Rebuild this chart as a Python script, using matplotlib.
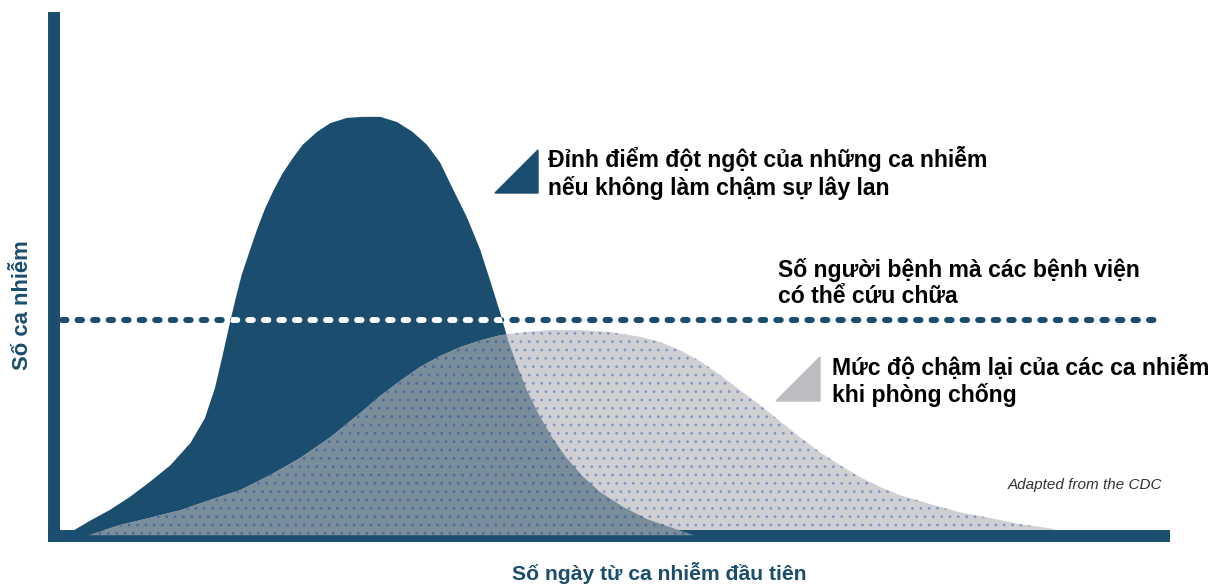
import matplotlib.pyplot as plt
from matplotlib.patches import Polygon

plt.rcParams['font.family'] = ['Liberation Sans', 'DejaVu Sans']
plt.rcParams['hatch.linewidth'] = 0.8

# curve without slowing the spread (days, cases)
fast_x = [1.0, 3.2, 5.0, 6.8, 8.6, 10.5, 12.3, 13.6, 14.5, 15.2, 15.9, 16.4, 16.9, 17.6,
          18.3, 19.0, 19.8, 20.6, 21.5, 22.4, 23.7, 24.9, 26.4, 27.8, 29.4, 30.9, 32.3,
          33.6, 34.8, 35.9, 37.2, 38.4, 39.3, 40.2, 40.9, 41.7, 42.6, 43.6, 44.8, 46.1,
          47.6, 49.2, 51.3, 53.4, 55.8, 57.7]
fast_y = [0, 2.8, 4.9, 7.4, 10.3, 13.6, 17.9, 22.7, 28.5, 34.9, 41.6, 46.1, 50.3, 54.8,
          59.2, 63.1, 66.8, 70.0, 72.9, 75.5, 78.0, 79.7, 80.7, 80.9, 80.9, 79.9, 78.0,
          75.5, 72.0, 67.1, 61.5, 55.2, 49.2, 43.0, 37.8, 32.9, 28.1, 23.7, 19.2, 15.2,
          11.5, 8.4, 5.5, 3.2, 1.4, 0]

# curve with protective measures
slow_x = [3.0, 5.9, 8.6, 11.4, 14.1, 16.8, 19.5, 22.2, 24.9, 27.6, 29.4, 31.2, 33.0, 34.8,
          36.6, 38.4, 40.2, 42.4, 44.7, 47.4, 50.1, 52.8, 54.6, 56.4, 58.2, 60.0, 61.8,
          63.6, 65.4, 67.2, 69.0, 70.8, 72.6, 74.4, 76.2, 78.9, 81.6, 84.3, 87.0, 89.7,
          92.0]
slow_y = [0, 2.0, 3.4, 4.9, 6.9, 8.8, 11.7, 15.0, 19.0, 23.7, 27.0, 29.9, 32.6, 34.7,
          36.4, 37.7, 38.7, 39.3, 39.7, 39.7, 39.3, 38.4, 37.4, 35.8, 33.7, 31.0, 28.1,
          25.2, 22.1, 19.0, 16.1, 13.6, 11.3, 9.4, 7.8, 6.1, 4.5, 3.4, 2.2, 1.4, 0]

capacity = 41.6

dark = '#1b4d6e'
grey = '#d0d0d3'
overlap = '#7a8d9b'

fig = plt.figure(figsize=(12.26, 5.85), dpi=100)
ax = fig.add_axes([0.04405, 0.0846, 0.9054, 0.8846])
ax.set_xlim(0, 100)
ax.set_ylim(0, 100)

fast = ax.fill(fast_x, fast_y, color=dark, lw=0, zorder=1)[0]
ax.fill(slow_x, slow_y, facecolor=grey, edgecolor='#8197c6', hatch='..', lw=0, zorder=2)
over = ax.fill(slow_x, slow_y, facecolor=overlap, edgecolor='#4d6c9e', hatch='..', lw=0,
               zorder=3)[0]
over.set_clip_path(fast)

ax.plot([0.7, 99.7], [capacity, capacity], color=dark, lw=4.3, dashes=(0.75, 1.85),
        dash_capstyle='round', zorder=4)
wl = ax.plot([0.7, 99.7], [capacity, capacity], color='white', lw=4.3, dashes=(0.75, 1.85),
             dash_capstyle='round', zorder=5)[0]
wl.set_clip_path(fast)

for s in ['top', 'right']:
    ax.spines[s].set_visible(False)
for s in ['left', 'bottom']:
    ax.spines[s].set_linewidth(8.6)
    ax.spines[s].set_color(dark)
ax.set_xticks([])
ax.set_yticks([])

W, H = 1226, 585


def px(x, y):
    return x / W, 1 - y / H


# legend triangles
fig.patches.append(Polygon([px(495, 193), px(538, 150), px(538, 193)], closed=True,
                           transform=fig.transFigure, color=dark))
fig.patches.append(Polygon([px(776, 401), px(820, 357), px(820, 401)], closed=True,
                           transform=fig.transFigure, color='#bdbdc1'))

fs = 16.6
fig.text(*px(548, 173), 'Đỉnh điểm đột ngột của những ca nhiễm\nnếu không làm chậm sự lây lan',
         fontsize=fs, fontweight='bold', va='center', ha='left', linespacing=1.2)
fig.text(*px(778, 283), 'Số người bệnh mà các bệnh viện\ncó thể cứu chữa',
         fontsize=fs, fontweight='bold', va='center', ha='left', linespacing=1.2)
fig.text(*px(832, 381), 'Mức độ chậm lại của các ca nhiễm\nkhi phòng chống',
         fontsize=fs, fontweight='bold', va='center', ha='left', linespacing=1.2)
fig.text(*px(1162, 485), 'Adapted from the CDC', fontsize=11, style='italic',
         color='#333333', ha='right', va='center')

fig.text(*px(659, 573), 'Số ngày từ ca nhiễm đầu tiên', fontsize=15.2, fontweight='bold',
         color=dark, ha='center', va='center')
fig.text(*px(23, 305), 'Số ca nhiễm', fontsize=15.8, fontweight='bold', color=dark,
         ha='center', va='center', rotation=90)

fig.savefig('out.png', dpi=100)
